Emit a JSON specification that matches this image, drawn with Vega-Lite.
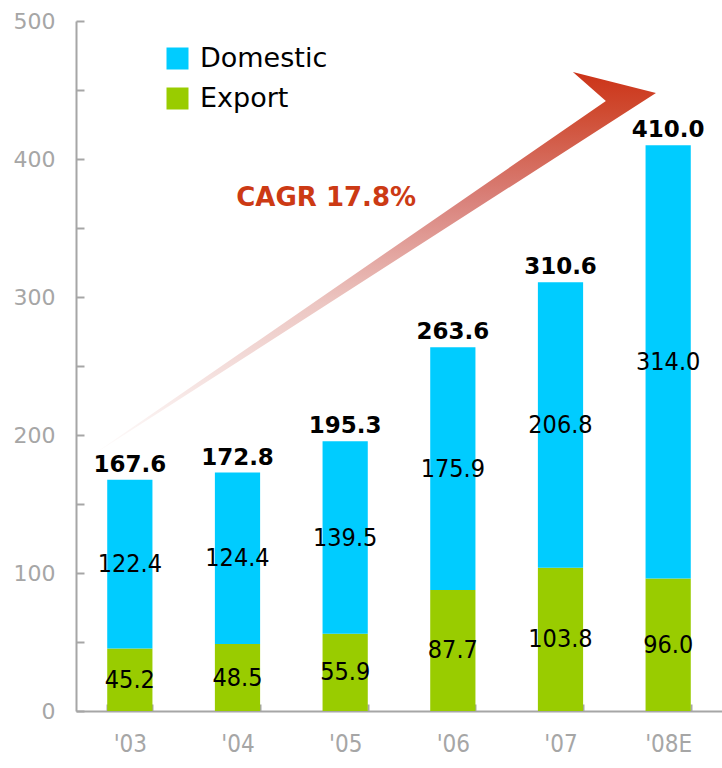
{
  "$schema": "https://vega.github.io/schema/vega-lite/v6.json",
  "width": 646,
  "height": 690,
  "autosize": {"type": "none"},
  "padding": {"left": 76, "top": 21, "right": 0, "bottom": 57},
  "background": "white",
  "config": {"view": {"stroke": null}},
  "datasets": {
    "segments": [
      {"year": "'03", "type": "Export", "value": 45.2},
      {"year": "'03", "type": "Domestic", "value": 122.4},
      {"year": "'04", "type": "Export", "value": 48.5},
      {"year": "'04", "type": "Domestic", "value": 124.4},
      {"year": "'05", "type": "Export", "value": 55.9},
      {"year": "'05", "type": "Domestic", "value": 139.5},
      {"year": "'06", "type": "Export", "value": 87.7},
      {"year": "'06", "type": "Domestic", "value": 175.9},
      {"year": "'07", "type": "Export", "value": 103.8},
      {"year": "'07", "type": "Domestic", "value": 206.8},
      {"year": "'08E", "type": "Export", "value": 96.0},
      {"year": "'08E", "type": "Domestic", "value": 314.0}
    ],
    "totals": [
      {"year": "'03", "total": 167.6},
      {"year": "'04", "total": 172.8},
      {"year": "'05", "total": 195.3},
      {"year": "'06", "total": 263.6},
      {"year": "'07", "total": 310.6},
      {"year": "'08E", "total": 410.0}
    ]
  },
  "data": {"name": "segments"},
  "encoding": {
    "x": {
      "field": "year",
      "type": "ordinal",
      "sort": null,
      "scale": {"domain": ["'03", "'04", "'05", "'06", "'07", "'08E"], "paddingInner": 0.58, "paddingOuter": 0.29},
      "axis": {
        "title": null,
        "labelAngle": 0,
        "tickBand": "extent",
        "tickSize": -7,
        "tickWidth": 2,
        "tickColor": "#a6a6a6",
        "domainColor": "#a6a6a6",
        "domainWidth": 2,
        "labelColor": "#a6a6a6",
        "labelFont": "DejaVu Sans Condensed",
        "labelFontSize": 24,
        "labelPadding": 28
      }
    }
  },
  "layer": [
    {
      "data": {"values": [{"note": "arrow"}]},
      "mark": {
        "type": "point",
        "shape": "M -0.857 0.629 L 0.869 -0.561 L 0.759 -0.658 L 1.036 -0.588 Z",
        "size": 360000,
        "filled": true,
        "opacity": 1,
        "strokeWidth": 0,
        "fill": {
          "gradient": "linear",
          "x1": 0, "y1": 1, "x2": 0, "y2": 0,
          "stops": [
            {"offset": 0, "color": "#ffffff"},
            {"offset": 0.4, "color": "#ecc6c2"},
            {"offset": 0.67, "color": "#d9817a"},
            {"offset": 0.9, "color": "#cf4a30"},
            {"offset": 1, "color": "#cc3318"}
          ]
        }
      },
      "encoding": {
        "x": {"datum": "'05"},
        "y": {"datum": 320}
      }
    },
    {
      "mark": {"type": "bar"},
      "encoding": {
        "y": {
          "field": "value",
          "type": "quantitative",
          "stack": "zero",
          "scale": {"domain": [0, 500], "nice": false},
          "axis": {
            "title": null,
            "grid": false,
            "values": [0, 50, 100, 150, 200, 250, 300, 350, 400, 450, 500],
            "labelExpr": "datum.value % 100 === 0 ? datum.label : ''",
            "tickSize": -8,
            "tickWidth": 2,
            "tickColor": "#a6a6a6",
            "domainColor": "#a6a6a6",
            "domainWidth": 2,
            "labelColor": "#a6a6a6",
            "labelFont": "DejaVu Sans",
            "labelFontSize": 22,
            "labelPadding": 29
          }
        },
        "color": {
          "field": "type",
          "type": "nominal",
          "scale": {"domain": ["Domestic", "Export"], "range": ["#00ccff", "#99cc00"]},
          "legend": {
            "title": null,
            "orient": "none",
            "legendX": 88,
            "legendY": 24,
            "symbolType": "square",
            "symbolSize": 484,
            "symbolStrokeWidth": 0,
            "labelFont": "DejaVu Sans",
            "labelFontSize": 27,
            "labelColor": "#000000",
            "labelOffset": 9,
            "rowPadding": 12
          }
        },
        "order": {"field": "type", "sort": "descending"}
      }
    },
    {
      "mark": {"type": "text", "font": "DejaVu Sans Condensed", "fontSize": 25, "color": "#000000", "baseline": "middle"},
      "encoding": {
        "y": {"field": "value", "type": "quantitative", "stack": "zero", "bandPosition": 0.5},
        "text": {"field": "value", "type": "quantitative", "format": ".1f"},
        "order": {"field": "type", "sort": "descending"}
      }
    },
    {
      "data": {"name": "totals"},
      "mark": {"type": "text", "font": "DejaVu Sans", "fontWeight": "bold", "fontSize": 23, "color": "#000000", "baseline": "alphabetic", "dy": -8},
      "encoding": {
        "y": {"field": "total", "type": "quantitative"},
        "text": {"field": "total", "type": "quantitative", "format": ".1f"}
      }
    },
    {
      "data": {"values": [{"label": "CAGR 17.8%"}]},
      "mark": {"type": "text", "font": "DejaVu Sans", "fontWeight": "bold", "fontSize": 26, "color": "#cc3a14", "baseline": "middle", "align": "center", "dx": -19},
      "encoding": {
        "x": {"datum": "'05"},
        "y": {"datum": 372},
        "text": {"field": "label"}
      }
    }
  ]
}
